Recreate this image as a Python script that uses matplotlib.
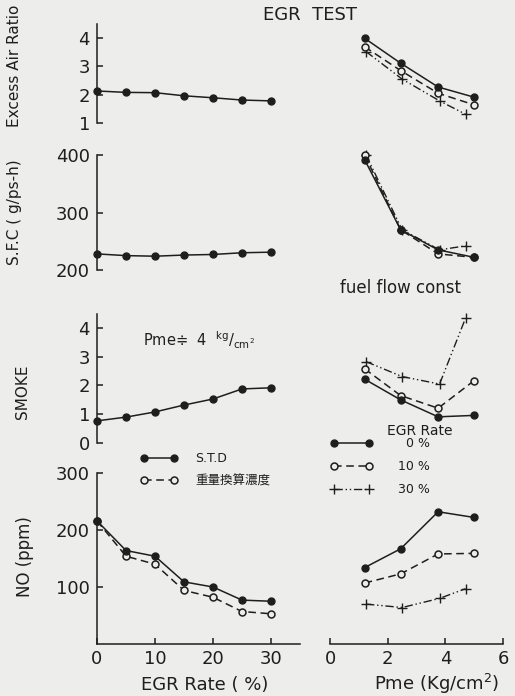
import matplotlib
matplotlib.use('Agg')
import matplotlib.pyplot as plt
from matplotlib.lines import Line2D

plt.rcParams['font.family'] = ['DejaVu Sans', 'Noto Sans CJK JP']

# EGR rate sweep (left column), Pme ~ 4 kg/cm2
egr = [0, 5, 10, 15, 20, 25, 30]
ear_egr = [2.13, 2.08, 2.07, 1.96, 1.89, 1.81, 1.78]
sfc_egr = [228, 225, 224, 226, 227, 230, 231]
smoke_egr = [0.77, 0.90, 1.08, 1.32, 1.53, 1.88, 1.92]
no_std = [216, 164, 154, 109, 100, 77, 75]
no_wt = [216, 154, 140, 94, 82, 57, 53]

# Pme sweep (right column), fuel flow const
pme_0 = [1.2, 2.45, 3.75, 5.0]
pme_10 = [1.2, 2.45, 3.75, 5.0]
pme_30 = [1.25, 2.5, 3.8, 4.7]
ear_0 = [3.99, 3.11, 2.27, 1.91]
ear_10 = [3.69, 2.85, 2.05, 1.64]
ear_30 = [3.52, 2.55, 1.78, 1.31]
sfc_0 = [392, 270, 235, 222]
sfc_10 = [400, 270, 228, 222]
sfc_30 = [400, 270, 235, 242]
smoke_0 = [2.22, 1.50, 0.91, 0.96]
smoke_10 = [2.58, 1.65, 1.21, 2.17]
smoke_30 = [2.83, 2.31, 2.05, 4.34]
no_0 = [134, 167, 232, 222]
no_10 = [107, 123, 158, 159]
no_30 = [70, 64, 80, 97]

ink = '#1e1e1e'
bg = '#ededeb'

fig = plt.figure(figsize=(5.15, 6.96), dpi=100, facecolor=bg)
W, H = 515.0, 696.0

def box(x0, x1, ytop, ybot):
    return [x0 / W, 1 - ybot / H, (x1 - x0) / W, (ybot - ytop) / H]

rows = [(23.8, 123, (1, 4.5), [1, 2, 3, 4]),
        (155, 270, (200, 400), [200, 300, 400]),
        (313.6, 443, (0, 4.5), [0, 1, 2, 3, 4]),
        (473, 644, (0, 300), [100, 200, 300])]

left_axes, right_axes = [], []
for i, (yt, yb, ylim, yt_list) in enumerate(rows):
    axl = fig.add_axes(box(97, 300, yt, yb))
    axr = fig.add_axes(box(330, 503, yt, yb))
    for ax in (axl, axr):
        ax.patch.set_visible(False)
        ax.set_ylim(*ylim)
        for s in ax.spines.values():
            s.set_color(ink)
            s.set_linewidth(1.1)
        ax.tick_params(direction='in', length=4, width=1.1, colors=ink,
                       labelsize=13, pad=5)
    axl.set_xlim(0, 35)
    axr.set_xlim(0, 6)
    axl.set_yticks(yt_list)
    for s in ('top', 'right'):
        axl.spines[s].set_visible(False)
    for s in ('top', 'right', 'left'):
        axr.spines[s].set_visible(False)
    axr.set_yticks([])
    if i < 3:
        axl.spines['bottom'].set_visible(False)
        axr.spines['bottom'].set_visible(False)
        axl.set_xticks([])
        axr.set_xticks([])
    left_axes.append(axl)
    right_axes.append(axr)

axl_no = left_axes[3]
axl_no.set_xticks([0, 10, 20, 30])
axl_no.tick_params(axis='x', pad=4)
axr_no = right_axes[3]
axr_no.set_xticks([0, 2, 4, 6])
axr_no.tick_params(axis='x', pad=4)

mk = dict(markersize=5, clip_on=False, linewidth=1.1, color=ink)
filled = dict(marker='o', markerfacecolor=ink, markeredgecolor=ink, **mk)
opened = dict(marker='o', markerfacecolor=bg, markeredgecolor=ink,
              markeredgewidth=1.1, linestyle=(0, (5, 3)), **mk)
plus = dict(marker='+', markersize=6.5, markeredgewidth=1.0, clip_on=False,
            linewidth=1.0, color=ink, linestyle=(0, (6, 2, 1, 2, 1, 2)))

# left column
left_axes[0].plot(egr, ear_egr, **filled)
left_axes[1].plot(egr, sfc_egr, **filled)
left_axes[2].plot(egr, smoke_egr, **filled)
axl_no.plot(egr, no_wt, **opened)
axl_no.plot(egr, no_std, **filled)

# right column
for ax, y0, y10, y30 in zip(right_axes,
                            [ear_0, sfc_0, smoke_0, no_0],
                            [ear_10, sfc_10, smoke_10, no_10],
                            [ear_30, sfc_30, smoke_30, no_30]):
    ax.plot(pme_30, y30, **plus)
    ax.plot(pme_10, y10, **opened)
    ax.plot(pme_0, y0, **filled)

# axis labels
fig.text(15 / W, 1 - 66 / H, 'Excess Air Ratio', rotation=90, ha='center',
         va='center', fontsize=11, color=ink)
fig.text(15 / W, 1 - 212 / H, 'S.F.C ( g/ps-h)', rotation=90, ha='center',
         va='center', fontsize=11, color=ink)
fig.text(22 / W, 1 - 392 / H, 'SMOKE', rotation=90, ha='center',
         va='center', fontsize=11, color=ink)
fig.text(25 / W, 1 - 557 / H, 'NO (ppm)', rotation=90, ha='center',
         va='center', fontsize=12, color=ink)
fig.text(205 / W, 1 - 685 / H, 'EGR Rate ( %)', ha='center', va='center',
         fontsize=13, color=ink)
fig.text(437 / W, 1 - 684 / H, 'Pme (Kg/cm$^2$)', ha='center', va='center',
         fontsize=13, color=ink)

fig.text(310 / W, 1 - 15 / H, 'EGR  TEST', ha='center', va='center',
         fontsize=13, color=ink)
fig.text(400 / W, 1 - 288 / H, 'fuel flow const', ha='center', va='center',
         fontsize=12, color=ink)
fig.text(143 / W, 1 - 340 / H, 'Pme\u2251  4  $^{\\mathrm{kg}}/_{\\mathrm{cm}^2}$',
         ha='left', va='center', fontsize=10.5, color=ink)

# legends
h_std = Line2D([], [], **filled)
h_wt = Line2D([], [], **opened)
leg1 = fig.legend([h_std, h_wt], ['S.T.D', '重量換算濃度'], loc='upper left',
                  bbox_to_anchor=(140 / W, 1 - 452 / H), frameon=False,
                  numpoints=2, handlelength=3.0, handletextpad=1.4,
                  labelspacing=0.75, borderpad=0, borderaxespad=0,
                  fontsize=9)
for t in leg1.get_texts():
    t.set_color(ink)

h0 = Line2D([], [], **filled)
h10 = Line2D([], [], **opened)
h30 = Line2D([], [], **plus)
leg2 = fig.legend([h0, h10, h30], ['  0 %', '10 %', '30 %'], loc='upper left',
                  bbox_to_anchor=(330 / W, 1 - 437 / H), frameon=False,
                  numpoints=2, handlelength=3.4, handletextpad=2.0,
                  labelspacing=0.8, borderpad=0, borderaxespad=0,
                  fontsize=9)
for t in leg2.get_texts():
    t.set_color(ink)
fig.text(420 / W, 1 - 431 / H, 'EGR Rate', ha='center', va='center',
         fontsize=10, color=ink)

fig.savefig('out.png', dpi=100, facecolor=bg)
